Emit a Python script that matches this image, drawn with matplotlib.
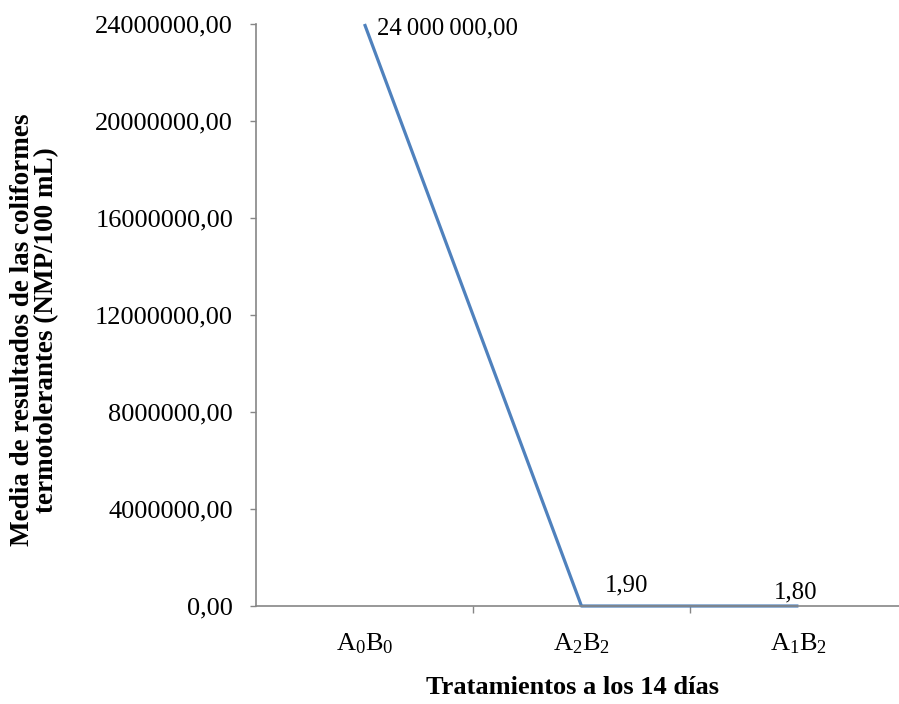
import matplotlib
matplotlib.use("Agg")
import matplotlib.pyplot as plt
from matplotlib.ticker import FuncFormatter, MultipleLocator

plt.rcParams['font.family'] = ['Liberation Serif', 'DejaVu Serif']
plt.rcParams['mathtext.fontset'] = 'custom'
plt.rcParams['mathtext.rm'] = 'Liberation Serif'
plt.rcParams['mathtext.it'] = 'Liberation Serif'

# Mean thermotolerant coliforms per treatment at day 14
treatments = [r'$\mathrm{A_0B_0}$', r'$\mathrm{A_2B_2}$', r'$\mathrm{A_1B_2}$']
means = [24000000.00, 1.90, 1.80]
value_labels = ['24\u2009000\u2009000,00', '1,90', '1,80']
label_offsets = [(9, -3), (17, 15), (-18, 10)]

axis_gray = '#868686'
line_blue = '#4F81BD'

fig = plt.figure(figsize=(8.99, 7.04), dpi=100)
ax = fig.add_axes([0.2848, 0.1392, 0.7240, 0.8267])

x = list(range(len(treatments)))
ax.plot(x, means, color=line_blue, linewidth=2.3, solid_capstyle='butt', clip_on=False)

for xi, yi, txt, off in zip(x, means, value_labels, label_offsets):
    ax.annotate(txt, (xi, yi), xytext=off, textcoords='offset points',
                ha='left', va='center', fontsize=17.8)

ax.set_xlim(-0.5, len(treatments) - 0.5)
ax.set_ylim(0, 24000000)
ax.yaxis.set_major_locator(MultipleLocator(4000000))
ax.yaxis.set_major_formatter(FuncFormatter(lambda v, p: f'{v:.2f}'.replace('.', ',')))

ax.set_xticks(x)
ax.set_xticklabels(treatments)
ax.set_xticks([0.5, 1.5], minor=True)
ax.tick_params(axis='x', which='major', length=0, pad=18, labelsize=19)
ax.tick_params(axis='x', which='minor', length=5, width=1, color=axis_gray, direction='out')
ax.tick_params(axis='y', length=4.5, width=1, color=axis_gray, labelsize=19, pad=12)

for side in ['top', 'right']:
    ax.spines[side].set_visible(False)
for side in ['left', 'bottom']:
    ax.spines[side].set_color(axis_gray)
    ax.spines[side].set_linewidth(1.2)

fig.text(573 / 899, 1 - 688 / 704, 'Tratamientos a los 14 días',
         fontsize=19, fontweight='bold', ha='center', va='center')
fig.text(35 / 899, 1 - 330 / 704,
         'Media de resultados de las coliformes\ntermotolerantes (NMP/100 mL)',
         fontsize=19.5, fontweight='bold', rotation=90, ha='center', va='center',
         linespacing=0.95, multialignment='center')

fig.savefig('out.png', dpi=100)
